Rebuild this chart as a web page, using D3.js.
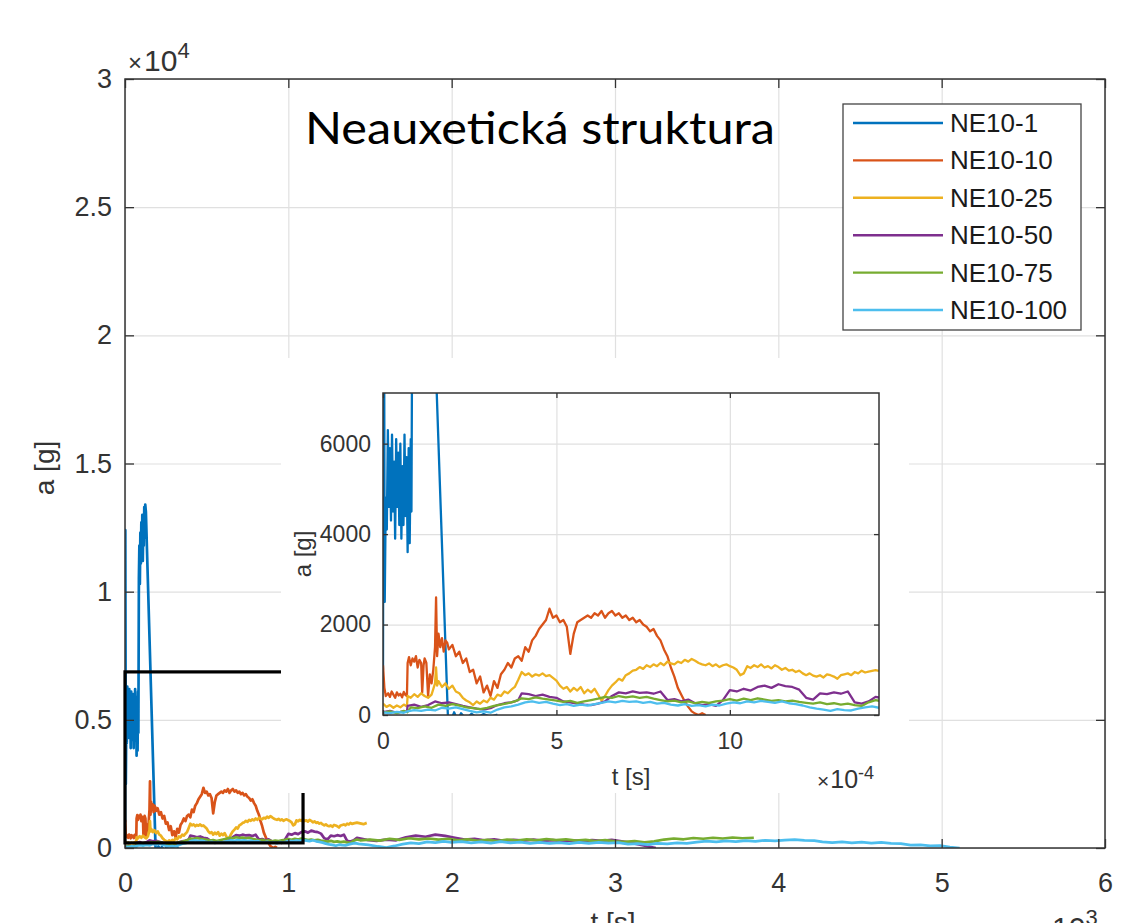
<!DOCTYPE html>
<html>
<head>
<meta charset="utf-8">
<script src="https://cdn.jsdelivr.net/npm/d3@7"></script>
<style>
body { margin: 0; background: #fff; }
svg { display: block; font-family: "Liberation Sans", Arial, sans-serif; }
</style>
</head>
<body>
<svg id="chart" width="1122" height="923"></svg>
<script>
// time in ms, acceleration in g
let seriesNames = ['NE10-1', 'NE10-10', 'NE10-25', 'NE10-50', 'NE10-75', 'NE10-100'];
let seriesColors = ['#0072BD', '#D95319', '#EDB120', '#7E2F8E', '#77AC30', '#4DBEEE'];

let ne10_1 = [[0,1000],[0.002,12400],[0.005,2500],[0.008,4800],[0.011,4100],[0.014,6300],[0.017,4600],[0.02,5900],
  [0.023,4300],[0.026,6200],[0.029,4500],[0.032,5600],[0.035,3900],[0.038,6100],[0.041,4600],[0.044,5800],[0.047,4200],
  [0.05,6000],[0.053,3900],[0.056,5500],[0.059,4200],[0.062,6200],[0.065,4400],[0.068,5700],[0.071,3600],[0.074,5900],
  [0.077,3800],[0.08,6100],[0.082,4500],[0.085,10500],[0.088,11800],[0.091,10300],[0.094,12300],[0.097,11100],
  [0.1,12700],[0.103,11400],[0.106,13000],[0.109,11200],[0.112,12600],[0.115,11800],[0.118,13300],[0.121,12100],
  [0.124,13400],[0.128,13100],[0.187,0],[0.195,-150],[0.205,60],[0.215,-120],[0.225,40],[0.24,-100],[0.255,30],
  [0.27,-60],[0.29,20],[0.31,-40],[0.33,10]];

let ne10_10 = [[0,1100],[0.004,600],[0.008,420],[0.015,480],[0.02,400],[0.025,520],[0.03,450],[0.035,380],[0.04,500],
  [0.045,430],[0.05,470],[0.055,390],[0.06,510],[0.065,440],[0.069,420],[0.071,1150],[0.075,1280],[0.08,1100],
  [0.085,1250],[0.09,1180],[0.095,1300],[0.1,1050],[0.105,1220],[0.11,1150],[0.113,500],[0.117,1100],[0.12,1250],
  [0.125,1150],[0.13,420],[0.135,900],[0.14,700],[0.145,1000],[0.15,1500],[0.153,2600],[0.156,1300],[0.16,1800],
  [0.165,1500],[0.17,1700],[0.175,1400],[0.18,1650],[0.185,1600],[0.19,1450],[0.2,1550],[0.21,1300],[0.22,1400],
  [0.23,1150],[0.24,1250],[0.25,950],[0.26,1000],[0.27,700],[0.28,850],[0.29,500],[0.3,650],[0.31,420],[0.32,750],
  [0.33,600],[0.34,900],[0.35,1000],[0.36,1150],[0.37,1050],[0.38,1250],[0.39,1300],[0.4,1200],[0.41,1500],
  [0.42,1400],[0.43,1650],[0.44,1750],[0.45,1900],[0.46,2000],[0.47,2100],[0.48,2350],[0.49,2150],[0.5,2200],
  [0.51,2050],[0.52,2100],[0.53,1950],[0.54,1350],[0.55,1800],[0.56,2050],[0.57,2100],[0.58,2150],[0.59,2200],
  [0.6,2150],[0.61,2250],[0.62,2200],[0.63,2300],[0.64,2150],[0.65,2250],[0.66,2300],[0.67,2200],[0.68,2250],
  [0.69,2150],[0.7,2200],[0.71,2100],[0.72,2150],[0.73,2050],[0.74,2100],[0.75,2000],[0.76,1950],[0.77,1850],
  [0.78,1900],[0.79,1750],[0.8,1650],[0.81,1450],[0.82,1300],[0.83,1050],[0.84,850],[0.85,600],[0.86,450],
  [0.87,300],[0.88,180],[0.89,80],[0.9,30],[0.91,0],[0.92,40],[0.93,0]];

let ne10_25 = [[0,250],[0.01,180],[0.02,220],[0.03,160],[0.04,210],[0.05,170],[0.06,230],[0.069,190],[0.071,420],
  [0.08,380],[0.09,460],[0.1,400],[0.11,480],[0.12,420],[0.13,380],[0.14,450],[0.15,700],[0.153,1050],[0.156,650],
  [0.16,750],[0.17,620],[0.18,700],[0.19,580],[0.2,650],[0.21,520],[0.22,480],[0.23,380],[0.24,320],[0.25,280],
  [0.26,220],[0.27,300],[0.28,250],[0.29,320],[0.3,280],[0.31,380],[0.32,340],[0.33,450],[0.34,420],[0.35,520],
  [0.36,480],[0.37,560],[0.38,620],[0.39,780],[0.4,950],[0.41,880],[0.42,920],[0.43,850],[0.44,900],[0.45,870],
  [0.46,920],[0.47,860],[0.48,880],[0.49,820],[0.5,760],[0.51,650],[0.52,580],[0.53,620],[0.54,520],[0.55,600],
  [0.56,540],[0.57,620],[0.58,480],[0.59,560],[0.6,500],[0.61,580],[0.62,450],[0.63,320],[0.64,420],[0.65,550],
  [0.66,650],[0.67,720],[0.68,800],[0.69,760],[0.7,880],[0.71,920],[0.72,980],[0.73,1000],[0.74,1060],[0.75,1020],
  [0.76,1100],[0.77,1060],[0.78,1120],[0.79,1080],[0.8,1150],[0.81,1100],[0.82,1180],[0.83,1140],[0.84,1120],
  [0.85,1180],[0.86,1150],[0.87,1220],[0.88,1180],[0.89,1240],[0.9,1200],[0.91,1150],[0.92,1120],[0.93,1100],
  [0.94,1140],[0.95,1080],[0.96,1120],[0.97,1060],[0.98,1100],[0.99,1120],[1.0,1080],[1.01,1050],[1.02,1000],
  [1.03,880],[1.04,920],[1.05,1080],[1.06,1040],[1.07,1100],[1.08,1060],[1.09,1120],[1.1,1050],[1.11,1080],
  [1.12,1030],[1.13,1100],[1.14,1060],[1.15,1000],[1.16,1040],[1.17,980],[1.18,1000],[1.19,950],[1.2,980],
  [1.21,920],[1.22,880],[1.23,920],[1.24,870],[1.25,850],[1.26,880],[1.27,830],[1.28,900],[1.29,880],[1.3,850],
  [1.31,800],[1.32,880],[1.33,900],[1.34,920],[1.35,880],[1.36,950],[1.37,920],[1.38,980],[1.39,940],[1.4,960],
  [1.42,990],[1.44,960],[1.46,930],[1.48,980]];

let ne10_50 = [[0,60],[0.02,90],[0.04,50],[0.06,80],[0.069,70],[0.071,200],[0.09,230],[0.11,180],[0.13,220],
  [0.15,300],[0.17,260],[0.19,280],[0.21,240],[0.23,200],[0.25,170],[0.27,140],[0.29,120],[0.31,150],[0.33,220],
  [0.35,260],[0.37,280],[0.39,330],[0.4,480],[0.42,460],[0.44,420],[0.46,450],[0.48,400],[0.5,380],[0.52,300],
  [0.54,280],[0.56,250],[0.58,230],[0.6,220],[0.62,250],[0.64,300],[0.66,420],[0.68,500],[0.7,480],[0.72,520],
  [0.74,490],[0.76,500],[0.78,470],[0.8,520],[0.82,330],[0.84,350],[0.86,300],[0.88,340],[0.9,260],[0.92,220],
  [0.94,240],[0.96,200],[0.98,330],[1.0,550],[1.02,520],[1.04,580],[1.06,540],[1.08,620],[1.1,650],[1.12,600],
  [1.14,680],[1.16,640],[1.18,620],[1.2,560],[1.22,380],[1.24,340],[1.26,480],[1.28,460],[1.3,500],[1.32,470],
  [1.34,520],[1.36,280],[1.38,250],[1.4,300],[1.42,400],[1.48,320],[1.54,280],[1.6,330],[1.66,300],[1.72,420],
  [1.78,480],[1.84,440],[1.9,520],[1.96,470],[2.02,400],[2.08,330],[2.14,360],[2.2,300],[2.26,340],[2.32,280],
  [2.38,320],[2.44,290],[2.5,330],[2.56,280],[2.62,310],[2.68,260],[2.74,300],[2.8,270],[2.86,310],[2.92,280],
  [2.98,320],[3.04,260],[3.1,200],[3.16,120],[3.22,40],[3.25,0]];

let ne10_75 = [[0,50],[0.02,80],[0.04,40],[0.06,90],[0.07,60],[0.08,170],[0.1,150],[0.12,190],[0.14,160],[0.16,230],
  [0.18,200],[0.2,240],[0.22,210],[0.24,170],[0.26,150],[0.28,130],[0.3,160],[0.32,200],[0.34,230],[0.36,260],
  [0.38,300],[0.4,370],[0.42,350],[0.44,390],[0.46,360],[0.48,340],[0.5,320],[0.52,290],[0.54,310],[0.56,270],
  [0.58,300],[0.6,330],[0.62,360],[0.64,400],[0.66,380],[0.68,420],[0.7,390],[0.72,410],[0.74,380],[0.76,400],
  [0.78,360],[0.8,330],[0.82,300],[0.84,320],[0.86,280],[0.88,300],[0.9,260],[0.92,290],[0.94,270],[0.96,300],
  [0.98,320],[1.0,350],[1.02,320],[1.04,360],[1.06,330],[1.08,370],[1.1,340],[1.12,310],[1.14,330],[1.16,300],
  [1.18,320],[1.2,290],[1.22,270],[1.24,250],[1.26,280],[1.28,240],[1.3,260],[1.32,230],[1.34,250],[1.36,220],
  [1.38,200],[1.4,280],[1.42,330],[1.44,300],[1.5,330],[1.56,290],[1.62,360],[1.68,320],[1.74,380],[1.8,340],
  [1.86,370],[1.92,330],[1.98,360],[2.04,300],[2.1,340],[2.16,280],[2.22,320],[2.28,270],[2.34,330],[2.4,290],
  [2.46,340],[2.52,300],[2.58,350],[2.64,310],[2.7,340],[2.76,290],[2.82,320],[2.88,270],[2.94,310],[3.0,260],
  [3.06,240],[3.12,270],[3.18,220],[3.24,260],[3.3,330],[3.36,370],[3.42,340],[3.48,390],[3.54,360],[3.6,400],
  [3.66,370],[3.72,410],[3.78,380],[3.85,400]];

let ne10_100 = [[0,60],[0.02,40],[0.04,70],[0.06,50],[0.07,80],[0.09,110],[0.11,90],[0.13,120],[0.15,100],
  [0.17,160],[0.19,140],[0.21,170],[0.23,130],[0.25,90],[0.27,60],[0.29,80],[0.31,50],[0.33,120],[0.35,170],
  [0.37,190],[0.39,230],[0.41,280],[0.43,300],[0.45,270],[0.47,290],[0.49,250],[0.51,220],[0.53,240],[0.55,200],
  [0.57,230],[0.59,210],[0.61,240],[0.63,270],[0.65,300],[0.67,280],[0.69,310],[0.71,290],[0.73,300],[0.75,270],
  [0.77,290],[0.79,250],[0.81,270],[0.83,230],[0.85,210],[0.87,240],[0.89,200],[0.91,220],[0.93,190],[0.95,230],
  [0.97,210],[0.99,250],[1.01,280],[1.03,260],[1.05,300],[1.07,280],[1.09,310],[1.11,290],[1.13,270],[1.15,300],
  [1.17,260],[1.19,240],[1.21,210],[1.23,170],[1.25,140],[1.27,120],[1.29,90],[1.31,130],[1.33,110],[1.35,100],
  [1.37,140],[1.39,170],[1.41,190],[1.43,160],[1.49,120],[1.55,60],[1.6,20],[1.65,80],[1.7,150],[1.75,200],
  [1.8,170],[1.85,240],[1.9,210],[1.95,260],[2.0,220],[2.06,250],[2.12,200],[2.18,240],[2.24,190],[2.3,250],
  [2.36,200],[2.42,230],[2.48,180],[2.54,220],[2.6,180],[2.66,210],[2.72,170],[2.78,220],[2.84,180],[2.9,220],
  [2.96,190],[3.02,210],[3.08,150],[3.14,170],[3.2,130],[3.26,180],[3.32,160],[3.38,200],[3.44,180],[3.5,230],
  [3.56,270],[3.62,240],[3.68,280],[3.74,250],[3.8,290],[3.86,260],[3.92,300],[3.98,280],[4.04,310],[4.1,330],
  [4.16,300],[4.22,290],[4.27,240],[4.33,210],[4.39,240],[4.45,200],[4.51,230],[4.57,190],[4.63,220],[4.69,180],
  [4.75,170],[4.81,110],[4.87,120],[4.93,80],[4.99,90],[5.05,40],[5.11,0]];

let allSeries = [ne10_1, ne10_10, ne10_25, ne10_50, ne10_75, ne10_100];

let mainXTicks = [0, 1, 2, 3, 4, 5, 6];
let mainYTicks = [0, 5000, 10000, 15000, 20000, 25000, 30000];
let insetXTicks = [0, 0.5, 1.0];
let insetYTicks = [0, 2000, 4000, 6000];
// zoomed region marked on main axes (ms, g)
let zoomT = [0, 1.09];
let zoomA = [200, 6870];

let svg = d3.select('#chart');
let axisColor = '#333';
let gridColor = '#e0e0e0';

// ---------------- main axes ----------------
let main = { left: 125, right: 1105, top: 79, bottom: 848 };
let xMain = d3.scaleLinear().domain([0, 6]).range([main.left, main.right]);
let yMain = d3.scaleLinear().domain([0, 30000]).range([main.bottom, main.top]);

function drawGrid(g, x, y, box, xt, yt) {
    g.append('g')
        .attr('transform', 'translate(0,' + box.bottom + ')')
        .call(d3.axisBottom(x).tickValues(xt).tickSize(-(box.bottom - box.top)).tickFormat(''))
        .call(s => s.select('.domain').remove())
        .selectAll('line').attr('stroke', gridColor).attr('stroke-width', 1.2);
    g.append('g')
        .attr('transform', 'translate(' + box.left + ',0)')
        .call(d3.axisLeft(y).tickValues(yt).tickSize(-(box.right - box.left)).tickFormat(''))
        .call(s => s.select('.domain').remove())
        .selectAll('line').attr('stroke', gridColor).attr('stroke-width', 1.2);
}

function drawLines(g, x, y, clipId, width) {
    let line = d3.line().x(d => x(d[0])).y(d => y(d[1]));
    g.append('g').attr('clip-path', 'url(#' + clipId + ')')
        .selectAll('path')
        .data(allSeries)
        .enter()
        .append('path')
        .attr('d', line)
        .attr('fill', 'none')
        .attr('stroke', (d, i) => seriesColors[i])
        .attr('stroke-width', width)
        .attr('stroke-linejoin', 'round');
}

function drawFrame(g, x, y, box, xt, yt, tickLen, fontSize, xFmt, yFmt, xPad, yPad) {
    let bottom = g.append('g')
        .attr('transform', 'translate(0,' + box.bottom + ')')
        .call(d3.axisBottom(x).tickValues(xt).tickSize(-tickLen).tickPadding(xPad).tickFormat(xFmt));
    let left = g.append('g')
        .attr('transform', 'translate(' + box.left + ',0)')
        .call(d3.axisLeft(y).tickValues(yt).tickSize(-tickLen).tickPadding(yPad).tickFormat(yFmt));
    let top = g.append('g')
        .attr('transform', 'translate(0,' + box.top + ')')
        .call(d3.axisTop(x).tickValues(xt).tickSize(-tickLen).tickFormat(''));
    let right = g.append('g')
        .attr('transform', 'translate(' + box.right + ',0)')
        .call(d3.axisRight(y).tickValues(yt).tickSize(-tickLen).tickFormat(''));
    [bottom, left, top, right].forEach(a => {
        a.select('.domain').remove();
        a.selectAll('line').attr('stroke', axisColor).attr('stroke-width', 1.3);
        a.selectAll('text').attr('fill', axisColor).style('font-size', fontSize + 'px')
            .style('font-family', '"Liberation Sans", Arial, sans-serif');
    });
    g.append('rect')
        .attr('x', box.left).attr('y', box.top)
        .attr('width', box.right - box.left).attr('height', box.bottom - box.top)
        .attr('fill', 'none').attr('stroke', axisColor).attr('stroke-width', 1.5);
}

let defs = svg.append('defs');
defs.append('clipPath').attr('id', 'clipMain').append('rect')
    .attr('x', main.left).attr('y', main.top)
    .attr('width', main.right - main.left).attr('height', main.bottom - main.top);

let gMain = svg.append('g');
drawGrid(gMain, xMain, yMain, main, mainXTicks, mainYTicks);
drawLines(gMain, xMain, yMain, 'clipMain', 2.7);
drawFrame(gMain, xMain, yMain, main, mainXTicks, mainYTicks, 9, 27,
    d => d, d => d / 10000, 25, 13);

// exponent labels of main axes
let expY = gMain.append('text').attr('x', 128).attr('y', 71).attr('fill', axisColor);
expY.append('tspan').style('font-size', '24px').text('×');
expY.append('tspan').style('font-size', '30px').attr('dx', 2).text('10');
expY.append('tspan').style('font-size', '22px').attr('dy', -13).text('4');

let expX = gMain.append('text').attr('x', 1036).attr('y', 938).attr('fill', axisColor);
expX.append('tspan').style('font-size', '24px').text('×');
expX.append('tspan').style('font-size', '30px').attr('dx', 2).text('10');
expX.append('tspan').style('font-size', '22px').attr('dy', -13).text('3');

gMain.append('text')
    .attr('transform', 'translate(44,468) rotate(-90)')
    .attr('text-anchor', 'middle').attr('dominant-baseline', 'central')
    .attr('fill', axisColor).style('font-size', '28px')
    .text('a [g]');
gMain.append('text')
    .attr('x', 613).attr('y', 932)
    .attr('text-anchor', 'middle')
    .attr('fill', axisColor).style('font-size', '28px')
    .text('t [s]');

// legend
let legend = svg.append('g');
legend.append('rect')
    .attr('x', 843).attr('y', 104).attr('width', 238).attr('height', 226)
    .attr('fill', '#fff').attr('stroke', '#444').attr('stroke-width', 1.3);
let rows = legend.selectAll('g.row')
    .data(seriesNames)
    .enter()
    .append('g')
    .attr('transform', (d, i) => 'translate(0,' + (123 + i * 37.4) + ')');
rows.append('line')
    .attr('x1', 853).attr('x2', 943).attr('y1', 0).attr('y2', 0)
    .attr('stroke', (d, i) => seriesColors[i]).attr('stroke-width', 2.4);
rows.append('text')
    .attr('x', 950).attr('y', 0).attr('dominant-baseline', 'central')
    .attr('fill', '#1a1a1a').style('font-size', '26px')
    .text(d => d);

// zoom rectangle on main axes
svg.append('rect')
    .attr('x', xMain(zoomT[0])).attr('y', yMain(zoomA[1]))
    .attr('width', xMain(zoomT[1]) - xMain(zoomT[0]))
    .attr('height', yMain(zoomA[0]) - yMain(zoomA[1]))
    .attr('fill', 'none').attr('stroke', '#000').attr('stroke-width', 3.2);

// ---------------- inset axes ----------------
svg.append('rect')
    .attr('x', 281).attr('y', 358).attr('width', 628).attr('height', 435)
    .attr('fill', '#fff');

let inset = { left: 383, right: 879, top: 393, bottom: 715 };
let xIn = d3.scaleLinear().domain([0, 1.43]).range([inset.left, inset.right]);
let yIn = d3.scaleLinear().domain([0, 7120]).range([inset.bottom, inset.top]);

defs.append('clipPath').attr('id', 'clipInset').append('rect')
    .attr('x', inset.left).attr('y', inset.top)
    .attr('width', inset.right - inset.left).attr('height', inset.bottom - inset.top);

let gIn = svg.append('g');
drawGrid(gIn, xIn, yIn, inset, insetXTicks, insetYTicks);
drawLines(gIn, xIn, yIn, 'clipInset', 2.3);
drawFrame(gIn, xIn, yIn, inset, insetXTicks, insetYTicks, 5, 23,
    d => Math.round(d * 10), d => d, 18, 12);

let expIn = gIn.append('text').attr('x', 817).attr('y', 788).attr('fill', axisColor);
expIn.append('tspan').style('font-size', '21px').text('×');
expIn.append('tspan').style('font-size', '25px').attr('dx', 1).text('10');
expIn.append('tspan').style('font-size', '18px').attr('dy', -9).text('-4');

gIn.append('text')
    .attr('transform', 'translate(302,554) rotate(-90)')
    .attr('text-anchor', 'middle').attr('dominant-baseline', 'central')
    .attr('fill', axisColor).style('font-size', '24px')
    .text('a [g]');
gIn.append('text')
    .attr('x', 631).attr('y', 785)
    .attr('text-anchor', 'middle')
    .attr('fill', axisColor).style('font-size', '24px')
    .text('t [s]');

// title text box
svg.append('text')
    .attr('x', 305).attr('y', 144)
    .attr('textLength', 470).attr('lengthAdjust', 'spacingAndGlyphs')
    .style('font-family', 'Lato, "Open Sans", sans-serif')
    .style('font-size', '44px')
    .attr('fill', '#000')
    .text('Neauxetická struktura');
</script>
</body>
</html>
